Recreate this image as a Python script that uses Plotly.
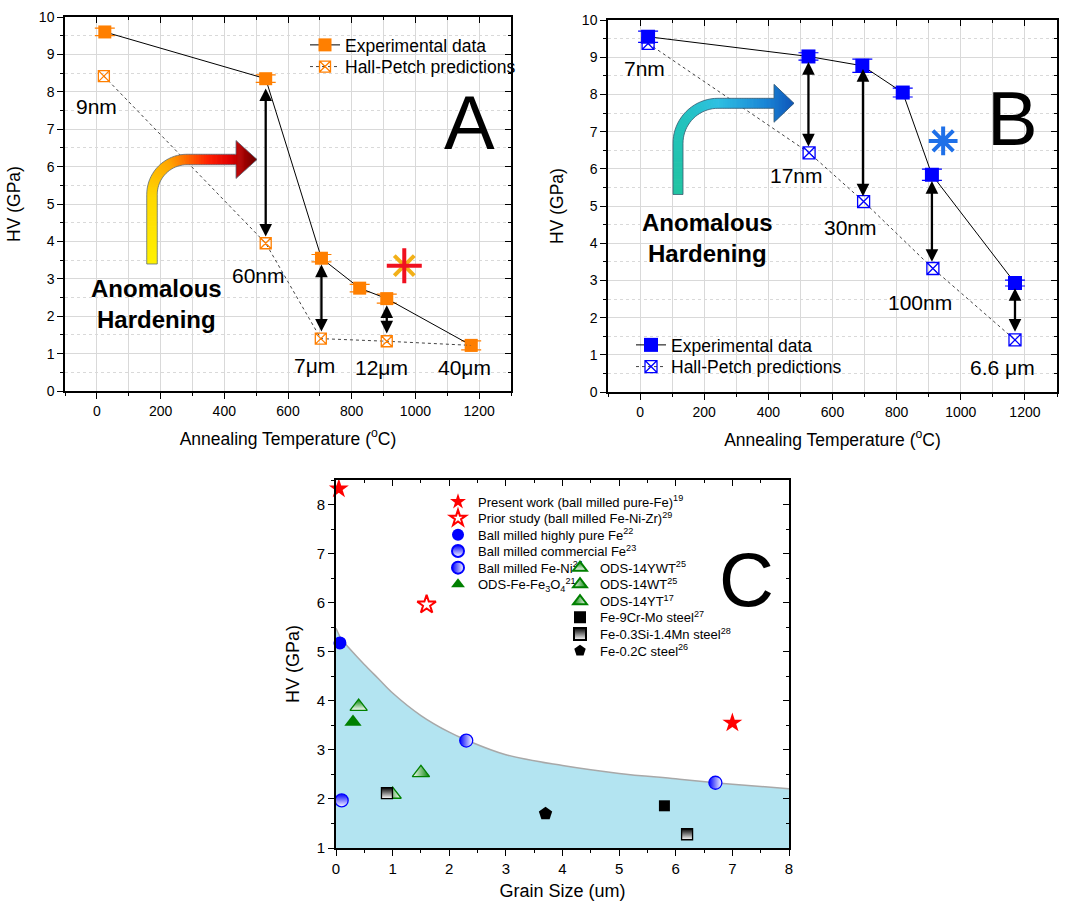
import math
import plotly.graph_objects as go

W, H = 1072, 902
FONT = "Liberation Sans, Arial, sans-serif"

# ---------------- Panel A data ----------------
a_temp_exp = [25, 530, 705, 825, 910, 1175]
a_hv_exp = [9.60, 8.35, 3.55, 2.75, 2.47, 1.22]
a_err_exp = [0.10, 0.10, 0.10, 0.10, 0.12, 0.12]
a_temp_hp = [22, 530, 703, 910, 1175]
a_hv_hp = [8.42, 3.95, 1.40, 1.33, 1.22]
a_size_labels = ["9nm", "60nm", "7μm", "12μm", "40μm"]
a_label_x = [0, 506, 683, 892, 1155]
a_label_y = [7.62, 3.08, 0.67, 0.62, 0.62]
a_arrow_x = [530, 705, 910]
a_arrow_top = [8.13, 3.42, 2.33]
a_arrow_bot = [4.13, 1.59, 1.54]
a_star_x = [965]
a_star_y = [3.35]

# ---------------- Panel B data ----------------
b_temp_exp = [25, 525, 693, 819, 910, 1169]
b_hv_exp = [9.55, 9.02, 8.77, 8.05, 5.84, 2.93]
b_err_exp = [0.15, 0.10, 0.18, 0.12, 0.15, 0.08]
b_temp_hp = [25, 527, 697, 913, 1169]
b_hv_hp = [9.37, 6.43, 5.12, 3.32, 1.40]
b_size_labels = ["7nm", "17nm", "30nm", "100nm", "6.6 μm"]
b_label_x = [15, 488, 657, 874, 1131]
b_label_y = [8.69, 5.81, 4.42, 2.40, 0.67]
b_arrow_x = [525, 695, 910, 1169]
b_arrow_top = [8.91, 8.72, 5.71, 2.83]
b_arrow_bot = [6.60, 5.26, 3.50, 1.62]
b_star_x = [945]
b_star_y = [6.75]

# ---------------- Panel C data ----------------
c_curve_x = [0, 0.1, 0.25, 0.5, 0.75, 1.0, 1.5, 2.0, 2.3, 3.0, 4.0, 5.0, 6.0, 6.7, 7.0, 8.0]
c_curve_y = [5.48, 5.25, 5.05, 4.74, 4.45, 4.16, 3.70, 3.36, 3.20, 2.90, 2.68, 2.52, 2.41, 2.33, 2.30, 2.21]
present_x = [0.05, 7.0]
present_y = [8.32, 3.55]
prior_x = [1.6]
prior_y = [5.96]
pure_x = [0.07]
pure_y = [5.18]
comm_x = [0.1]
comm_y = [1.97]
feni_x = [2.3, 6.7]
feni_y = [3.19, 2.33]
fe3o4_x = [0.3]
fe3o4_y = [3.57]
ywt_x = [0.4]
ywt_y = [3.88]
wt_x = [1.5]
wt_y = [2.53]
yt_x = [1.0]
yt_y = [2.09]
cr_x = [5.8]
cr_y = [1.86]
simn_x = [0.9, 6.2]
simn_y = [2.12, 1.28]
c02_x = [3.7]
c02_y = [1.70]

ORANGE = "#FF7F00"
BLUE = "#0000FF"
GREEN = "#008000"
RED = "#FF0000"

# pixel boxes (left, top, right, bottom)
A_BOX = (65, 17, 511, 391)
B_BOX = (608, 20, 1057, 392)
C_BOX = (336, 480, 789, 848)


def dom_x(b):
    return [b[0] / W, b[2] / W]


def dom_y(b):
    return [1 - b[3] / H, 1 - b[1] / H]


fig = go.Figure()

# ---------- Panel A traces ----------
fig.add_trace(go.Scatter(
    x=a_temp_exp, y=a_hv_exp, mode="lines+markers", name="Experimental data",
    line=dict(color="black", width=1),
    marker=dict(symbol="square", size=13, color=ORANGE),
    error_y=dict(type="data", array=a_err_exp, color=ORANGE, thickness=1.2, width=10),
    xaxis="x", yaxis="y", legend="legend"))
fig.add_trace(go.Scatter(
    x=a_temp_hp, y=a_hv_hp, mode="lines+markers", name="Hall-Petch predictions",
    line=dict(color="#444444", width=1, dash="dot"),
    marker=dict(symbol="square-x-open", size=11, color=ORANGE, line=dict(width=1.3)),
    xaxis="x", yaxis="y", legend="legend2"))
fig.add_trace(go.Scatter(
    x=a_star_x, y=a_star_y, mode="markers", showlegend=False,
    marker=dict(symbol="x-thin-open", size=20, color="#F2B018", line=dict(color="#F2B018", width=4)),
    xaxis="x", yaxis="y", cliponaxis=False))
fig.add_trace(go.Scatter(
    x=a_star_x, y=a_star_y, mode="markers", showlegend=False,
    marker=dict(symbol="cross-thin-open", size=25, color="#F01020", line=dict(color="#F01020", width=4)),
    xaxis="x", yaxis="y", cliponaxis=False))

# ---------- Panel B traces ----------
fig.add_trace(go.Scatter(
    x=b_temp_exp, y=b_hv_exp, mode="lines+markers", name="Experimental data",
    line=dict(color="black", width=1),
    marker=dict(symbol="square", size=14, color=BLUE),
    error_y=dict(type="data", array=b_err_exp, color=BLUE, thickness=1.2, width=10),
    xaxis="x2", yaxis="y2", legend="legend3"))
fig.add_trace(go.Scatter(
    x=b_temp_hp, y=b_hv_hp, mode="lines+markers", name="Hall-Petch predictions",
    line=dict(color="#444444", width=1, dash="dot"),
    marker=dict(symbol="square-x-open", size=12, color=BLUE, line=dict(width=1.3)),
    xaxis="x2", yaxis="y2", legend="legend4"))
fig.add_trace(go.Scatter(
    x=b_star_x, y=b_star_y, mode="markers", showlegend=False,
    marker=dict(symbol="asterisk-open", size=24, color="#1E70E8", line=dict(color="#1E70E8", width=4)),
    xaxis="x2", yaxis="y2", cliponaxis=False))

# ---------- Panel C traces ----------
fig.add_trace(go.Scatter(
    x=c_curve_x, y=c_curve_y, mode="lines", showlegend=False,
    line=dict(color="#A8A8A8", width=1.5, shape="spline"),
    fill="tozeroy", fillcolor="#B3E4F1", xaxis="x3", yaxis="y3", hoverinfo="skip"))

c_series = [
    (present_x, present_y, "Present work (ball milled pure-Fe)<sup>19</sup>",
     dict(symbol="star", size=15, color=RED, line=dict(width=0))),
    (prior_x, prior_y, "Prior study (ball milled Fe-Ni-Zr)<sup>29</sup>",
     dict(symbol="star-open", size=14, color=RED, line=dict(width=2, color=RED))),
    (pure_x, pure_y, "Ball milled highly pure Fe<sup>22</sup>",
     dict(symbol="circle", size=13, color=BLUE, line=dict(width=0))),
    (comm_x, comm_y, "Ball milled commercial Fe<sup>23</sup>",
     dict(symbol="circle", size=13, color=BLUE, line=dict(width=1.3, color=BLUE),
          gradient=dict(type="vertical", color="white"))),
    (feni_x, feni_y, "Ball milled Fe-Ni<sup>24</sup>",
     dict(symbol="circle", size=13, color=BLUE, line=dict(width=1.3, color=BLUE),
          gradient=dict(type="horizontal", color="white"))),
    (fe3o4_x, fe3o4_y, "ODS-Fe-Fe<sub>3</sub>O<sub>4</sub><sup>21</sup>",
     dict(symbol="triangle-up", size=15, color=GREEN, line=dict(width=0))),
    (ywt_x, ywt_y, "ODS-14YWT<sup>25</sup>",
     dict(symbol="triangle-up", size=15, color=GREEN, line=dict(width=1.3, color=GREEN),
          gradient=dict(type="vertical", color="white"))),
    (wt_x, wt_y, "ODS-14WT<sup>25</sup>",
     dict(symbol="triangle-up", size=15, color="white", line=dict(width=1.3, color=GREEN),
          gradient=dict(type="horizontal", color=GREEN))),
    (yt_x, yt_y, "ODS-14YT<sup>17</sup>",
     dict(symbol="triangle-up", size=15, color=GREEN, line=dict(width=1.3, color=GREEN),
          gradient=dict(type="horizontal", color="white"))),
    (cr_x, cr_y, "Fe-9Cr-Mo steel<sup>27</sup>",
     dict(symbol="square", size=11, color="black", line=dict(width=0))),
    (simn_x, simn_y, "Fe-0.3Si-1.4Mn steel<sup>28</sup>",
     dict(symbol="square", size=11, color="black", line=dict(width=1.3, color="black"),
          gradient=dict(type="vertical", color="white"))),
    (c02_x, c02_y, "Fe-0.2C steel<sup>26</sup>",
     dict(symbol="pentagon", size=14, color="black", line=dict(width=0))),
]

# legend slots for panel C (pixel: left edge, row centre)
col1_rows = [501.7, 518.3, 534.7, 551.0, 567.7, 584.3]
col2_rows = [567.7, 584.3, 601.3, 617.3, 634.0, 650.7]
c_leg_pos = [(438, r) for r in col1_rows] + [(560, r) for r in col2_rows]

legends = {}


def leg(xpx, ypx, size, sizing="trace"):
    return dict(x=xpx / W, y=1 - ypx / H, xanchor="left", yanchor="middle",
                bgcolor="rgba(0,0,0,0)", borderwidth=0, itemsizing=sizing,
                font=dict(family=FONT, size=size, color="black"))


legends["legend"] = leg(305, 45, 17.5)
legends["legend2"] = leg(305, 66.7, 17.5)
legends["legend3"] = leg(631, 345, 17.5)
legends["legend4"] = leg(631, 366.7, 17.5)

for i, (sx, sy, name, mk) in enumerate(c_series):
    lname = "legend%d" % (5 + i)
    fig.add_trace(go.Scatter(x=sx, y=sy, mode="markers", name=name, marker=mk,
                             xaxis="x3", yaxis="y3", legend=lname, cliponaxis=False))
    legends[lname] = leg(c_leg_pos[i][0], c_leg_pos[i][1], 13, "constant")

# dummy traces for mirror (inside tick) axes
for xa, ya in [("x4", "y4"), ("x5", "y5"), ("x6", "y6")]:
    fig.add_trace(go.Scatter(x=[None], y=[None], xaxis=xa, yaxis=ya,
                             showlegend=False, hoverinfo="skip"))


# ---------- axes ----------
def main_x(box, rng, dtick, mdtick, title, grid, anchor, tfs, lw, tsize, stand):
    d = dict(domain=dom_x(box), anchor=anchor, range=rng, dtick=dtick, tick0=0,
             ticks="outside", ticklen=6, tickwidth=1.3, tickcolor="black",
             showline=True, linecolor="black", linewidth=lw, mirror=True,
             zeroline=False, showgrid=grid, gridcolor="#D9D9D9", gridwidth=1,
             tickfont=dict(family=FONT, size=tfs, color="black"),
             title=dict(text=title, font=dict(family=FONT, size=tsize, color="black"), standoff=stand),
             automargin=False,
             minor=dict(dtick=mdtick, tick0=0, ticks="outside", ticklen=3, tickwidth=1.1,
                        tickcolor="black", showgrid=grid, gridcolor="#D9D9D9", gridwidth=1))
    return d


def main_y(box, rng, title, grid, anchor, tfs, lw, tsize, stand):
    d = dict(domain=dom_y(box), anchor=anchor, range=rng, dtick=1, tick0=0,
             ticks="outside", ticklen=6, tickwidth=1.3, tickcolor="black",
             showline=True, linecolor="black", linewidth=lw, mirror=True,
             zeroline=False, showgrid=grid, gridcolor="#D9D9D9", gridwidth=1,
             tickfont=dict(family=FONT, size=tfs, color="black"),
             title=dict(text=title, font=dict(family=FONT, size=tsize, color="black"), standoff=stand),
             automargin=False,
             minor=dict(dtick=0.5, tick0=0, ticks="outside", ticklen=3, tickwidth=1.1,
                        tickcolor="black", showgrid=grid, gridcolor="#D9D9D9", gridwidth=1,
                        griddash="dot"))
    return d


def mirror_x(over, anchor, rng, dtick, mdtick):
    return dict(overlaying=over, anchor=anchor, side="top", range=rng, dtick=dtick, tick0=0,
                ticks="inside", ticklen=6, tickwidth=1.3, tickcolor="black",
                showticklabels=False, showgrid=False, zeroline=False, showline=False,
                automargin=False,
                minor=dict(dtick=mdtick, tick0=0, ticks="inside", ticklen=3, tickwidth=1.1,
                           tickcolor="black", showgrid=False))


def mirror_y(over, anchor, rng):
    return dict(overlaying=over, anchor=anchor, side="right", range=rng, dtick=1, tick0=0,
                ticks="inside", ticklen=6, tickwidth=1.3, tickcolor="black",
                showticklabels=False, showgrid=False, zeroline=False, showline=False,
                automargin=False,
                minor=dict(dtick=0.5, tick0=0, ticks="inside", ticklen=3, tickwidth=1.1,
                           tickcolor="black", showgrid=False))


T_TITLE = "Annealing Temperature (<sup>o</sup>C)"
layout = dict(
    width=W, height=H, margin=dict(l=0, r=0, t=0, b=0),
    paper_bgcolor="white", plot_bgcolor="white",
    font=dict(family=FONT, color="black"),
    xaxis=main_x(A_BOX, [-100, 1300], 200, 100, T_TITLE, True, "y", 14, 1.5, 17.5, 15),
    yaxis=main_y(A_BOX, [0, 10], "HV (GPa)", True, "x", 14, 1.5, 17.5, 14),
    xaxis2=main_x(B_BOX, [-100, 1300], 200, 100, T_TITLE, True, "y2", 14, 1.5, 17.5, 15),
    yaxis2=main_y(B_BOX, [0, 10], "HV (GPa)", True, "x2", 14, 1.5, 17.5, 14),
    xaxis3=main_x(C_BOX, [0, 8], 1, 0.5, "Grain Size (um)", False, "y3", 15, 2, 18, 8),
    yaxis3=main_y(C_BOX, [1, 8.5], "HV (GPa)", False, "x3", 15, 2, 18, 12),
    xaxis4=mirror_x("x", "y", [-100, 1300], 200, 100),
    yaxis4=mirror_y("y", "x", [0, 10]),
    xaxis5=mirror_x("x2", "y2", [-100, 1300], 200, 100),
    yaxis5=mirror_y("y2", "x2", [0, 10]),
    xaxis6=mirror_x("x3", "y3", [0, 8], 1, 0.5),
    yaxis6=mirror_y("y3", "x3", [1, 8.5]),
    showlegend=True,
)
layout.update(legends)
fig.update_layout(**layout)

# ---------- annotations ----------
ann = []


def txt(x, y, s, xr, yr, size, bold=False, xanchor="center"):
    ann.append(dict(x=x, y=y, xref=xr, yref=yr, text=("<b>%s</b>" % s) if bold else s,
                    showarrow=False, xanchor=xanchor, yanchor="middle",
                    font=dict(family=FONT, size=size, color="black")))


for s, lx, ly in zip(a_size_labels, a_label_x, a_label_y):
    txt(lx, ly, s, "x", "y", 21)
for s, lx, ly in zip(b_size_labels, b_label_x, b_label_y):
    txt(lx, ly, s, "x2", "y2", 21)
txt(1171, 7.18, "A", "x", "y", 76)
txt(1160, 7.36, "B", "x2", "y2", 76)
txt(7.25, 6.48, "C", "x3", "y3", 76)
txt(-25, 2.33, "Anomalous<br>Hardening", "x", "y", 24, bold=True, xanchor="left")
txt(0, 4.14, "Anomalous<br>Hardening", "x2", "y2", 24, bold=True, xanchor="left")


def dbl_arrows(xs, tops, bots, xr, yr):
    for x, t, b in zip(xs, tops, bots):
        ann.append(dict(x=x, y=b, ax=x, ay=t, xref=xr, yref=yr, axref=xr, ayref=yr,
                        text="", showarrow=True, arrowside="end+start",
                        arrowhead=2, startarrowhead=2, arrowsize=1.1, startarrowsize=1.1,
                        arrowwidth=2.3, arrowcolor="black", standoff=0, startstandoff=0))


dbl_arrows(a_arrow_x, a_arrow_top, a_arrow_bot, "x", "y")
dbl_arrows(b_arrow_x, b_arrow_top, b_arrow_bot, "x2", "y2")


# ---------- gradient bent arrows (decoration) ----------
def hex2rgb(h):
    h = h.lstrip("#")
    return tuple(int(h[i:i + 2], 16) for i in (0, 2, 4))


def interp(stops, f):
    for (f0, c0), (f1, c1) in zip(stops[:-1], stops[1:]):
        if f <= f1:
            t = 0 if f1 == f0 else (f - f0) / (f1 - f0)
            a, b = hex2rgb(c0), hex2rgb(c1)
            return "rgb(%d,%d,%d)" % tuple(round(a[k] + (b[k] - a[k]) * t) for k in range(3))
    return "rgb(%d,%d,%d)" % hex2rgb(stops[-1][1])


def P(x, y):
    return "%.5f,%.5f" % (x / W, 1 - y / H)


def bent_arrow(xb, yb, yh, r, xh_end, tip_x, head_half, w, stops, outline):
    cx, cy = xb + r, yh + r
    L1 = yb - cy
    L2 = math.pi * r / 2
    L3 = xh_end - cx
    L4 = tip_x - xh_end
    Lb = L1 + L2 + L3
    Lt = Lb + L4

    def pn(s):
        if s <= L1:
            return xb, yb - s, -1.0, 0.0
        if s <= L1 + L2:
            th = math.pi + (s - L1) / r
            return cx + r * math.cos(th), cy + r * math.sin(th), math.cos(th), math.sin(th)
        return cx + (s - L1 - L2), yh, 0.0, -1.0

    shapes = []
    n = 70
    for i in range(n):
        s0 = Lb * i / n
        s1 = min(Lb * (i + 1) / n + 0.7, Lb + 0.7)
        x0, y0, nx0, ny0 = pn(s0)
        x1, y1, nx1, ny1 = pn(min(s1, Lb))
        if s1 > Lb:
            x1 += s1 - Lb
        hw = w / 2
        path = "M%s L%s L%s L%s Z" % (P(x0 + nx0 * hw, y0 + ny0 * hw), P(x1 + nx1 * hw, y1 + ny1 * hw),
                                      P(x1 - nx1 * hw, y1 - ny1 * hw), P(x0 - nx0 * hw, y0 - ny0 * hw))
        shapes.append(dict(type="path", path=path, xref="paper", yref="paper",
                           fillcolor=interp(stops, (s0 + s1) / 2 / Lt), line=dict(width=0),
                           layer="above"))
    m = 20
    for k in range(m):
        xa = xh_end + L4 * k / m
        xb2 = min(xh_end + L4 * (k + 1) / m + 0.6, tip_x)
        ha = head_half * (1 - (xa - xh_end) / L4)
        hb = head_half * (1 - (xb2 - xh_end) / L4)
        path = "M%s L%s L%s L%s Z" % (P(xa, yh - ha), P(xb2, yh - hb), P(xb2, yh + hb), P(xa, yh + ha))
        shapes.append(dict(type="path", path=path, xref="paper", yref="paper",
                           fillcolor=interp(stops, (Lb + (xa + xb2) / 2 - xh_end) / Lt),
                           line=dict(width=0), layer="above"))
    # outline
    pts = [(xb - w / 2, yb), (xb - w / 2, cy)]
    for j in range(1, 21):
        th = math.pi + (math.pi / 2) * j / 20
        pts.append((cx + (r + w / 2) * math.cos(th), cy + (r + w / 2) * math.sin(th)))
    pts += [(xh_end, yh - w / 2), (xh_end, yh - head_half), (tip_x, yh),
            (xh_end, yh + head_half), (xh_end, yh + w / 2), (cx, yh + w / 2)]
    for j in range(1, 21):
        th = 1.5 * math.pi - (math.pi / 2) * j / 20
        pts.append((cx + (r - w / 2) * math.cos(th), cy + (r - w / 2) * math.sin(th)))
    pts += [(xb + w / 2, yb)]
    path = "M" + " L".join(P(x, y) for x, y in pts) + " Z"
    shapes.append(dict(type="path", path=path, xref="paper", yref="paper",
                       line=dict(color=outline, width=0.8), layer="above"))
    return shapes


shapes = []
shapes += bent_arrow(152, 264, 159.5, 35, 236, 257, 19, 10.5,
                     [(0.0, "#FFF200"), (0.35, "#FFD800"), (0.55, "#FFA500"),
                      (0.75, "#FF2000"), (0.86, "#E00000"), (1.0, "#6A0000")], "#5A6E80")
shapes += bent_arrow(678, 194.5, 103.3, 40, 774, 794, 19, 10,
                     [(0.0, "#22C4A2"), (0.4, "#22C2BE"), (0.6, "#2EC0E2"),
                      (0.85, "#1A86D6"), (1.0, "#0F55B8")], "#3A5A70")

fig.update_layout(annotations=ann, shapes=shapes)
fig.write_html("out.html", config={"displayModeBar": False},
               post_script="document.body.style.margin='0px';document.body.style.overflow='hidden';")
